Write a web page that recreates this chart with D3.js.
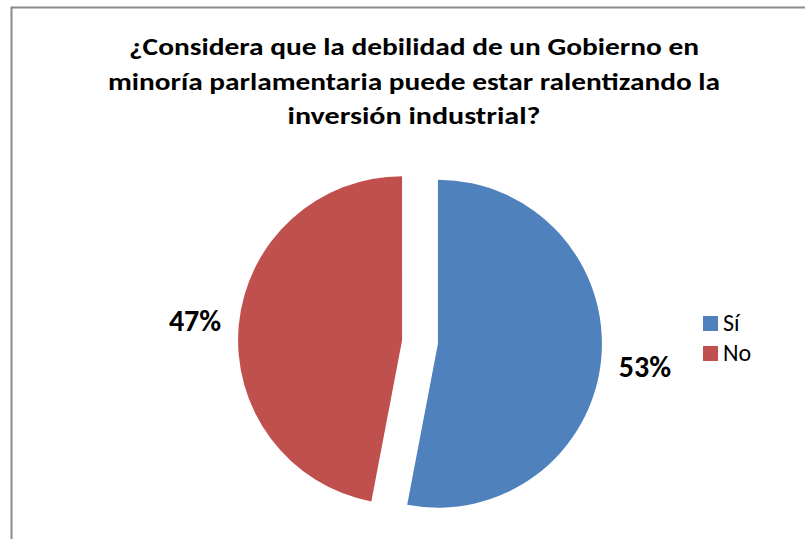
<!DOCTYPE html>
<meta charset="utf-8">
<html>
<head>
<style>
body { margin: 0; background: #fff; }
text { font-family: Carlito, "Liberation Sans", "Open Sans", sans-serif; }
.title { font-weight: bold; font-size: 24px; text-anchor: middle; fill: #000; }
.label { font-weight: bold; font-size: 30px; text-anchor: middle; fill: #000; }
.legend text { font-size: 24px; fill: #000; }
</style>
<script src="https://d3js.org/d3.v7.min.js"></script>
</head>
<body>
<svg width="805" height="539"></svg>
<script>
var categories = ["Sí", "No"];
var values = [53, 47];
var colors = ["#4F81BD", "#C0504D"];
var titleLines = [
  "¿Considera que la debilidad de un Gobierno en",
  "minoría parlamentaria puede estar ralentizando la",
  "inversión industrial?"
];

var svg = d3.select("svg");

// chart frame (runs off the right and bottom edges)
svg.append("rect")
    .attr("x", 11.5).attr("y", 7.5)
    .attr("width", 900).attr("height", 700)
    .attr("fill", "#fff")
    .attr("stroke", "#8a8a8a")
    .attr("stroke-width", 2);

// title
var lineWidths = [570, 612, 253];
svg.append("g").selectAll("text")
    .data(titleLines)
  .enter().append("text")
    .attr("class", "title")
    .attr("x", 414)
    .attr("y", function(d, i) { return 55 + i * 34.5; })
    .attr("textLength", function(d, i) { return lineWidths[i]; })
    .attr("lengthAdjust", "spacingAndGlyphs")
    .text(function(d) { return d; });

var cx = 420, cy = 342, r = 164, explode = 18;

var pie = d3.pie().sort(null).value(function(d) { return d; });
var arc = d3.arc().innerRadius(0).outerRadius(r);
var arcs = pie(values);

var g = svg.append("g").attr("transform", "translate(" + cx + "," + cy + ")");

g.selectAll("path")
    .data(arcs)
  .enter().append("path")
    .attr("d", arc)
    .attr("fill", function(d, i) { return colors[i]; })
    .attr("transform", function(d) {
      var a = (d.startAngle + d.endAngle) / 2;
      return "translate(" + (Math.sin(a) * explode) + "," + (-Math.cos(a) * explode) + ")";
    });

// percentage labels outside the slices
var labelR = 226;
g.selectAll("text.label")
    .data(arcs)
  .enter().append("text")
    .attr("class", "label")
    .attr("x", function(d) { var a = (d.startAngle + d.endAngle) / 2; return Math.sin(a) * labelR; })
    .attr("y", function(d, i) { var a = (d.startAngle + d.endAngle) / 2; return -Math.cos(a) * labelR + (i == 0 ? 14 : 10); })
    .text(function(d, i) { return values[i] + "%"; });

// legend
var legend = svg.append("g").attr("class", "legend")
    .attr("transform", "translate(703,316)");

var item = legend.selectAll("g")
    .data(categories)
  .enter().append("g")
    .attr("transform", function(d, i) { return "translate(0," + i * 30 + ")"; });

item.append("rect")
    .attr("width", 15).attr("height", 15)
    .attr("fill", function(d, i) { return colors[i]; });

item.append("text")
    .attr("x", 20).attr("y", 15)
    .text(function(d) { return d; });
</script>
</body>
</html>
